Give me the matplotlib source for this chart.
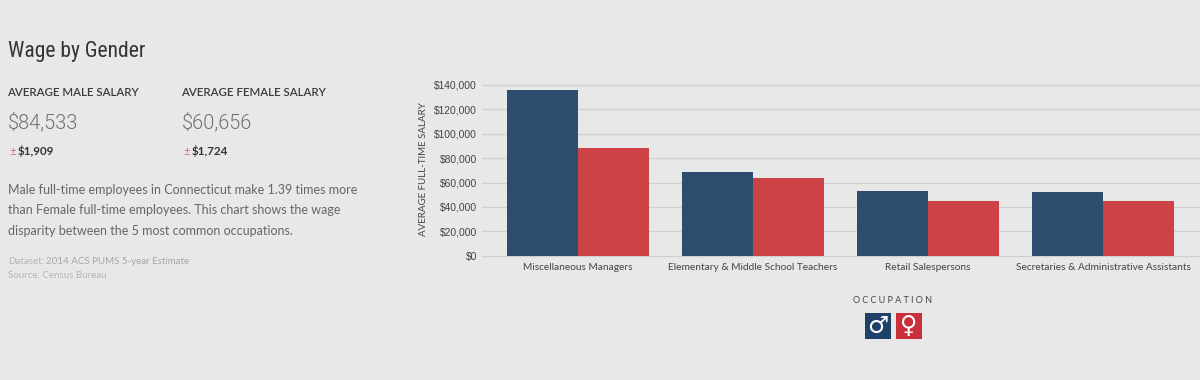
import matplotlib
matplotlib.use("Agg")
import matplotlib.pyplot as plt
from matplotlib.patches import Rectangle
from matplotlib.ticker import FuncFormatter

occupations = ["Miscellaneous Managers", "Elementary & Middle School Teachers",
               "Retail Salespersons", "Secretaries & Administrative Assistants"]
male = [135500, 68600, 52700, 52200]
female = [88300, 63700, 45000, 44900]
yticks = [0, 20000, 40000, 60000, 80000, 100000, 120000, 140000]

W, H = 1200, 380
BG = "#e8e8e8"
NAVY = "#2c4d6e"
RED = "#cc4246"
fig = plt.figure(figsize=(W / 100, H / 100), dpi=100, facecolor=BG)

def T(x, y, s, size, color="#444444", family="Lato", weight="normal", ha="left", **kw):
    return fig.text(x / W, 1 - y / H, s, fontsize=size, color=color, family=family,
                    weight=weight, ha=ha, va="center", **kw)

T(8, 52, "Wage by Gender", 15.5, "#333333", "Roboto Condensed")
T(7.5, 92, "AVERAGE MALE SALARY", 8.3, "#3a3a3a", weight="semibold")
T(181.5, 92, "AVERAGE FEMALE SALARY", 8.3, "#3a3a3a", weight="semibold")
T(8, 122.5, "$84,533", 14.4, "#707070", "Roboto", weight=300)
T(182, 122.5, "$60,656", 14.4, "#707070", "Roboto", weight=300)
T(9, 150.5, "±", 8, "#d9686a")
T(18, 150.5, "$1,909", 8.4, "#333333", weight="bold")
T(183, 150.5, "±", 8, "#d9686a")
T(192, 150.5, "$1,724", 8.4, "#333333", weight="bold")
T(8, 190, "Male full-time employees in Connecticut make 1.39 times more", 9.0, "#666666")
T(8, 210, "than Female full-time employees. This chart shows the wage", 9.0, "#666666")
T(8, 231, "disparity between the 5 most common occupations.", 9.0, "#666666")
T(8, 261, "Dataset:", 7.0, "#b5b5b5")
T(46, 261, "2014 ACS PUMS 5-year Estimate", 7.0, "#a5a5a5")
T(8, 276, "Source: Census Bureau", 7.0, "#b5b5b5")

left, right, top, bottom = 482, 1200, 85, 255.7
ax = fig.add_axes([left / W, 1 - bottom / H, (right - left) / W, (bottom - top) / H])
ax.set_facecolor(BG)
pos = list(range(len(occupations)))
bw = 0.403
ax.bar([p - bw / 2 for p in pos], male, bw, color=NAVY, zorder=3)
ax.bar([p + bw / 2 for p in pos], female, bw, color=RED, zorder=3)
ax.set_xlim((left - 578) / 175, (right - 578) / 175)
ax.set_ylim(0, 140000)
ax.set_yticks(yticks)
ax.yaxis.set_major_formatter(FuncFormatter(lambda v, _: f"${v:,.0f}"))
ax.set_xticks(pos)
ax.set_xticklabels(occupations, family="Lato", fontsize=7.25, color="#444444")
ax.tick_params(axis="x", length=0, pad=5.5)
ax.tick_params(axis="y", length=0, pad=3.6, labelsize=7.4, labelcolor="#444444")
for lab in ax.get_yticklabels():
    lab.set_family("Liberation Sans")
ax.grid(axis="y", color="#cfcfcf", linewidth=0.9, zorder=0)
ax.set_axisbelow(True)
for s in ax.spines.values():
    s.set_visible(False)
for gl in ax.yaxis.get_gridlines():
    gl.set_clip_on(False)

T(423, 169.5, "AVERAGE FULL-TIME SALARY", 7.0, "#444444", rotation=90, ha="center")
T(893, 300.5, "O C C U P A T I O N", 6.5, "#444444", ha="center")
fig.add_artist(Rectangle((865 / W, 1 - 339 / H), 26 / W, 26 / H, transform=fig.transFigure,
                         color="#1f4068", lw=0))
fig.add_artist(Rectangle((896 / W, 1 - 339 / H), 26 / W, 26 / H, transform=fig.transFigure,
                         color="#c9303a", lw=0))
T(878, 325.5, "♂", 17, "white", "DejaVu Sans", ha="center")
T(909, 325.5, "♀", 17, "white", "DejaVu Sans", ha="center")

fig.savefig("out.png", dpi=100, facecolor=BG)
